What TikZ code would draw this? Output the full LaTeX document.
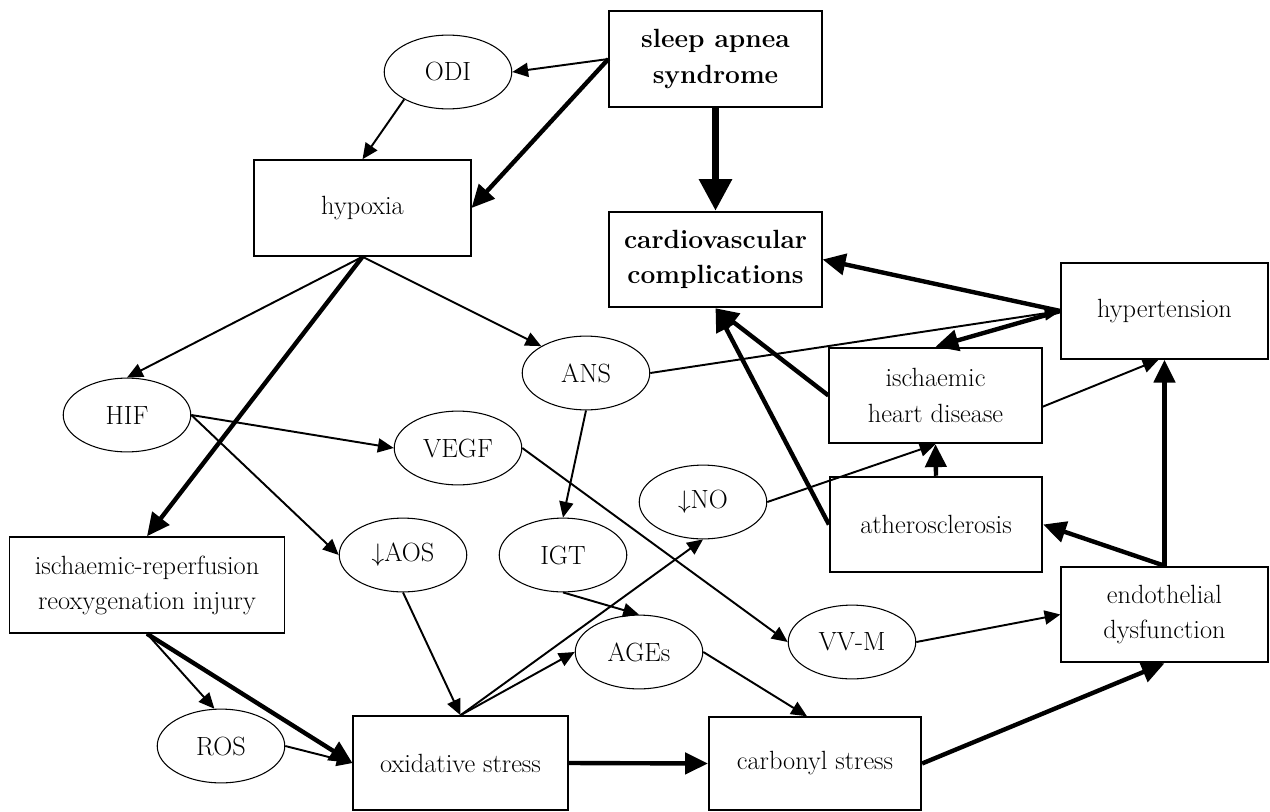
\documentclass[tikz,border=0pt]{standalone}
\usetikzlibrary{arrows.meta,shapes.geometric,calc}
\begin{document}
\begin{tikzpicture}[x=0.02cm,y=-0.02cm,
  txt/.style={font=\fontsize{15}{20}\selectfont, align=center},
  box/.style={txt, draw, line width=1.1pt, minimum width=120.8pt, minimum height=54.4pt, inner sep=0pt},
  oval/.style={txt, draw, ellipse, line width=0.6pt, minimum width=72.6pt, minimum height=42pt, inner sep=0pt},
  conn/.style={line width=1.1pt, -{Triangle[length=9pt,width=8pt]}},
  bigconn/.style={line width=2.5pt, -{Triangle[length=13pt,width=12pt]}},
  hugeconn/.style={line width=4pt, -{Triangle[length=18pt,width=18pt]}}]
\useasboundingbox (0,0) rectangle (1270,811);
% nodes
\node[box] (sleep) at (715.5,59) {\textbf{sleep apnea}\\\textbf{syndrome}};
\node[oval] (ODI) at (448,72) {ODI};
\node[box, minimum width=123pt] (hyp) at (362.5,208) {hypoxia};
\node[box] (cardio) at (715.5,259.5) {\textbf{cardiovascular}\\\textbf{complications}};
\node[box, minimum width=117.4pt] (htn) at (1164.5,311) {hypertension};
\node[box] (ihd) at (935.5,395.5) {ischaemic\\heart disease};
\node[box] (ather) at (936,524.5) {atherosclerosis};
\node[box, minimum width=117.4pt] (endo) at (1164.5,614.5) {endothelial\\dysfunction};
\node[oval] (ANS) at (586,373) {ANS};
\node[oval] (HIF) at (127,415) {HIF};
\node[oval] (VEGF) at (458,448) {VEGF};
\node[oval] (AOS) at (403,555) {$\downarrow$AOS};
\node[oval] (IGT) at (563,555) {IGT};
\node[oval] (NO) at (703,502) {$\downarrow$NO};
\node[oval] (AGE) at (639,652) {AGEs};
\node[oval] (VVM) at (852,642) {VV-M};
\node[box, minimum width=156.5pt] (IR) at (147,585) {ischaemic-reperfusion\\reoxygenation injury};
\node[oval] (ROS) at (221,746) {ROS};
\node[box, minimum width=121.9pt, minimum height=53.3pt] (ox) at (460.5,763) {oxidative stress};
\node[box, minimum height=52.7pt] (carb) at (815,763.5) {carbonyl stress};
% connectors
\draw[conn] (sleep.west) -- (ODI.east);
\draw[bigconn] (sleep.west) -- (hyp.east);
\draw[conn] (ODI.-148) -- (hyp.north);
\draw[hugeconn] (sleep.south) -- (cardio.north);
\draw[conn] (hyp.south) -- (HIF.north);
\draw[bigconn] (hyp.south) -- (IR.north);
\draw[conn] (hyp.south) -- (ANS.149);
\draw[conn] (HIF.east) -- (VEGF.west);
\draw[conn] (HIF.east) -- (AOS.west);
\draw[conn] (ANS.south) -- (IGT.north);
\draw[conn] (ANS.east) -- (htn.west);
\draw[bigconn] (htn.west) -- (cardio.east);
\draw[bigconn] (htn.west) -- (ihd.north);
\draw[bigconn] (ihd.west) -- (cardio.south);
\draw[bigconn] (ather.west) -- (cardio.south);
\draw[conn] (NO.east) -- (ihd.south);
\draw[bigconn] (ather.north) -- (ihd.south);
\draw[conn] (ihd.-6) -- ($(htn.south)+(-6,0)$);
\draw[bigconn] (endo.north) -- (htn.south);
\draw[bigconn] (endo.north) -- (ather.east);
\draw[conn] (VVM.east) -- (endo.west);
\draw[bigconn] (carb.east) -- (endo.south);
\draw[conn] (VEGF.east) -- (VVM.west);
\draw[conn] (IGT.south) -- (AGE.north);
\draw[conn] (AGE.east) -- ($(carb.north)+(-8,0)$);
\draw[conn] (ox.north) -- (AGE.west);
\draw[conn] (ox.north) -- (NO.south);
\draw[conn] (AOS.south) -- (ox.north);
\draw[bigconn] (ox.east) -- (carb.west);
\draw[conn] (IR.south) -- (ROS.100);
\draw[bigconn] (IR.south) -- (ox.west);
\draw[conn] (ROS.east) -- (ox.west);
\end{tikzpicture}
\end{document}
